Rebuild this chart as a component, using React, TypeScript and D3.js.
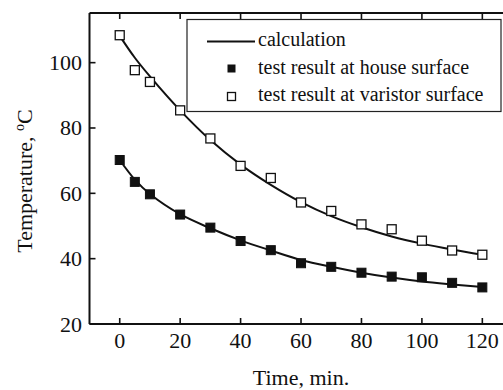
import React from "react";
import * as d3 from "d3";

const W = 503, H = 390;
const xTicks = [0, 20, 40, 60, 80, 100, 120];
const yTicks = [20, 40, 60, 80, 100];

const timeVaristor = [0, 5, 10, 20, 30, 40, 50, 60, 70, 80, 90, 100, 110, 120];
const tempVaristor = [108.4, 97.7, 94.1, 85.4, 76.8, 68.4, 64.7, 57.2, 54.6, 50.5, 49.0, 45.5, 42.5, 41.2];
const timeHouse = [0, 5, 10, 20, 30, 40, 50, 60, 70, 80, 90, 100, 110, 120];
const tempHouse = [70.2, 63.5, 59.7, 53.5, 49.5, 45.4, 42.6, 38.6, 37.5, 35.7, 34.5, 34.3, 32.6, 31.2];

const calcTime = [0, 5, 10, 20, 30, 40, 50, 60, 70, 80, 90, 100, 110, 120];
const calcVaristor = [108.2, 101.5, 95.8, 85.4, 76.3, 68.8, 62.6, 57.3, 53.0, 49.6, 46.8, 44.6, 42.8, 41.2];
const calcHouse = [70.2, 64.2, 59.8, 53.6, 49.3, 45.6, 42.5, 39.6, 37.5, 35.7, 34.2, 33.0, 32.1, 31.3];

const legendLabels = ["calculation", "test result at house surface", "test result at varistor surface"];

export default function App() {
  const x = d3.scaleLinear().domain([-10, 127.5]).range([89.5, 505]);
  const y = d3.scaleLinear().domain([20, 115.2]).range([324, 13]);
  const line = d3
    .line<[number, number]>()
    .x((d) => x(d[0]))
    .y((d) => y(d[1]))
    .curve(d3.curveCatmullRom.alpha(0.5));
  const font = "'Liberation Serif', 'Times New Roman', serif";
  const x0 = x(-10), x1 = x(127.5), yTop = y(115.2), yBot = y(20);
  const ms = 9;
  const legendY = [46, 73.5, 101];
  return (
    <svg width={W} height={H} style={{ position: "absolute", left: 0, top: 0 }} fontFamily={font}>
      <rect x={0} y={0} width={W} height={H} fill="#fff" />
      <path d={line(calcTime.map((t, i) => [t, calcVaristor[i]]) as any) || ""} fill="none" stroke="#111" strokeWidth={2} />
      <path d={line(calcTime.map((t, i) => [t, calcHouse[i]]) as any) || ""} fill="none" stroke="#111" strokeWidth={2} />
      {timeVaristor.map((t, i) => (
        <rect key={"v" + i} x={x(t) - ms / 2} y={y(tempVaristor[i]) - ms / 2} width={ms} height={ms} fill="#fff" stroke="#111" strokeWidth={1.3} />
      ))}
      {timeHouse.map((t, i) => (
        <rect key={"h" + i} x={x(t) - ms / 2} y={y(tempHouse[i]) - ms / 2} width={ms} height={ms} fill="#111" stroke="#111" strokeWidth={1} />
      ))}
      <line x1={x0} x2={x1} y1={yBot} y2={yBot} stroke="#111" strokeWidth={2} />
      <line x1={x0} x2={x1} y1={yTop} y2={yTop} stroke="#111" strokeWidth={2} />
      <line x1={x0} x2={x0} y1={yTop} y2={yBot} stroke="#111" strokeWidth={2} />
      {xTicks.map((t) => (
        <g key={"xt" + t}>
          <line x1={x(t)} x2={x(t)} y1={yBot} y2={yBot - 6} stroke="#111" strokeWidth={1.6} />
          <line x1={x(t)} x2={x(t)} y1={yTop} y2={yTop + 6} stroke="#111" strokeWidth={1.6} />
          <text x={x(t)} y={348} fontSize={22} textAnchor="middle" fill="#111">{t}</text>
        </g>
      ))}
      {yTicks.map((v) => (
        <g key={"yt" + v}>
          <line x1={x0} x2={x0 + 6} y1={y(v)} y2={y(v)} stroke="#111" strokeWidth={1.6} />
          <text x={82} y={y(v) + 7.5} fontSize={22} textAnchor="end" fill="#111">{v}</text>
        </g>
      ))}
      <text x={301} y={385} fontSize={22} textAnchor="middle" fill="#111">Time, min.</text>
      <text transform={`translate(32,181) rotate(-90)`} fontSize={22} textAnchor="middle" fill="#111">
        Temperature, <tspan dy={-8} fontSize={14}>o</tspan><tspan dy={8}>C</tspan>
      </text>
      <rect x={187} y={19.5} width={314} height={92} fill="#fff" stroke="#222" strokeWidth={1.2} />
      <line x1={207} x2={255} y1={41.5} y2={41.5} stroke="#111" strokeWidth={2} />
      <rect x={231.5 - 4} y={68.5 - 4} width={8} height={8} fill="#111" />
      <rect x={231.5 - 4} y={96.5 - 4} width={8} height={8} fill="#fff" stroke="#111" strokeWidth={1.3} />
      {legendLabels.map((l, i) => (
        <text key={l} x={258} y={legendY[i]} fontSize={20} fill="#111">{l}</text>
      ))}
    </svg>
  );
}
